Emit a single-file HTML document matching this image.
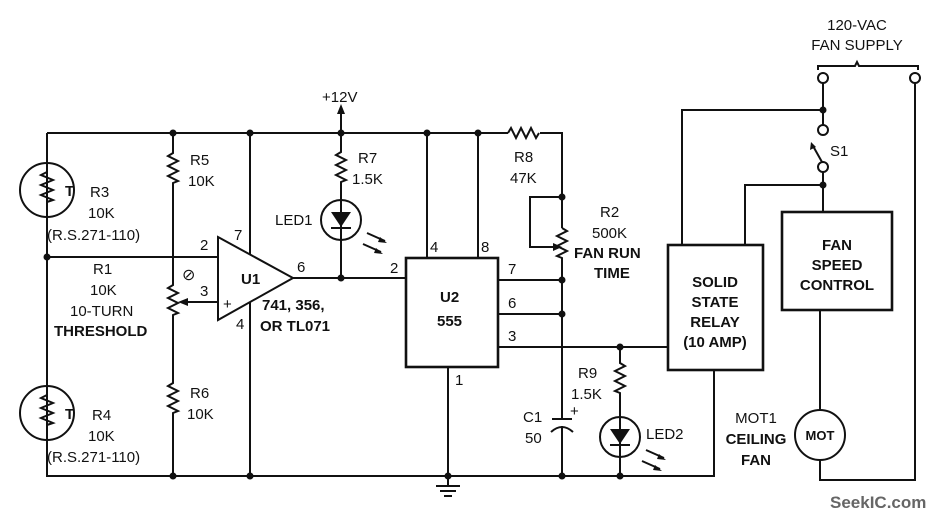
<!DOCTYPE html>
<html><head><meta charset="utf-8"><style>
html,body{margin:0;padding:0;background:#fff}
svg{display:block}
text{font-family:"Liberation Sans",sans-serif;font-size:15px;fill:#111}
.b{font-weight:bold}
</style></head><body>
<svg width="950" height="522" viewBox="0 0 950 522" xmlns="http://www.w3.org/2000/svg">
<g stroke="#111" stroke-width="2" fill="none">
<path d="M47 133 H508 M540 133 H562 V228"/>
<path d="M508 133 l3 -5 l5 10 l5 -10 l5 10 l5 -10 l5 10 l3 -5"/>
<path d="M47 133 V476 H714 V370"/>
<circle cx="47" cy="190" r="27"/>
<path d="M47 172 l-6 3 l12 5 l-12 5 l12 5 l-12 5 l12 5 l-6 2"/>
<circle cx="47" cy="413" r="27"/>
<path d="M47 395 l-6 3 l12 5 l-12 5 l12 5 l-12 5 l12 5 l-6 2"/>
<path d="M173 133 V153 l-5 3 l10 5 l-10 5 l10 5 l-10 5 l10 5 l-5 2 V285 l-5 3 l10 5 l-10 5 l10 5 l-10 5 l10 5 l-5 2 V383 l-5 3 l10 5 l-10 5 l10 5 l-10 5 l10 5 l-5 2 V476"/>
<path d="M47 257 H218"/>
<path d="M188 302 H218"/>
<path d="M218 237 L293 278 L218 320 Z"/>
<path d="M250 133 V254 M250 302 V476"/>
<path d="M293 278 H406"/>
<path d="M341 112 V152 l-5 3 l10 5 l-10 5 l10 5 l-10 5 l10 5 l-5 2 V278"/>
<circle cx="341" cy="220" r="20"/>
<path d="M331 228 H351"/>
<path d="M367 233 l18 8 M363 244 l18 8"/>
<rect x="406" y="258" width="92" height="109" stroke-width="2.6"/>
<path d="M427 133 V258 M478 133 V258 M448 367 V486"/>
<path d="M436 486 H460 M440 491 H456 M444 496 H452"/>
<path d="M562 197 H530 V247 H555"/>
<path d="M562 228 l5 3 l-10 5 l10 5 l-10 5 l10 5 l-10 5 l5 2 V418"/>
<path d="M498 280 H562 M498 314 H562 M498 347 H668"/>
<path d="M552 419 H572"/>
<path d="M551 432 Q562 422 573 432"/>
<path d="M562 426 V476"/>
<path d="M620 347 V363 l5 3 l-10 5 l10 5 l-10 5 l10 5 l-10 5 l5 2 V476"/>
<circle cx="620" cy="437" r="20"/>
<path d="M610 445 H630"/>
<path d="M646 450 l18 8 M642 461 l18 8"/>
<rect x="668" y="245" width="95" height="125" stroke-width="2.6"/>
<path d="M682 245 V110 H823 M745 245 V185 H823"/>
<path d="M823 83 V125 M823 172 V212"/>
<circle cx="823" cy="78" r="5" fill="#fff"/>
<circle cx="915" cy="78" r="5" fill="#fff"/>
<circle cx="823" cy="130" r="5" fill="#fff"/>
<circle cx="823" cy="167" r="5" fill="#fff"/>
<path d="M822 162 L813 146"/>
<path d="M818 70 V66 H855 L857 62 L859 66 H918 V70"/>
<rect x="782" y="212" width="110" height="98" stroke-width="2.6"/>
<path d="M820 310 V410 M820 460 V480 H915 V83"/>
<circle cx="820" cy="435" r="25"/>
</g>
<g fill="#111">
<path d="M341 104 l-4 10 h8 z"/>
<path d="M331 212 h20 l-10 15 z"/>
<path d="M610 429 h20 l-10 15 z"/>
<path d="M178 302 l10 -4 v8 z"/>
<path d="M562 247 l-9 -4 v8 z"/>
<path d="M387 243 l-7 -6 l-2 5 z M383 254 l-7 -6 l-2 5 z"/>
<path d="M666 460 l-7 -6 l-2 5 z M662 471 l-7 -6 l-2 5 z"/>
<path d="M811 142 l-1 8 l6 -3 z"/>
<circle cx="173" cy="133" r="3.5"/><circle cx="250" cy="133" r="3.5"/><circle cx="341" cy="133" r="3.5"/>
<circle cx="427" cy="133" r="3.5"/><circle cx="478" cy="133" r="3.5"/>
<circle cx="47" cy="257" r="3.5"/><circle cx="341" cy="278" r="3.5"/>
<circle cx="173" cy="476" r="3.5"/><circle cx="250" cy="476" r="3.5"/><circle cx="448" cy="476" r="3.5"/>
<circle cx="562" cy="476" r="3.5"/><circle cx="620" cy="476" r="3.5"/>
<circle cx="562" cy="197" r="3.5"/><circle cx="562" cy="280" r="3.5"/><circle cx="562" cy="314" r="3.5"/>
<circle cx="620" cy="347" r="3.5"/><circle cx="823" cy="110" r="3.5"/><circle cx="823" cy="185" r="3.5"/>
</g>
<text x="65" y="196" class="b">T</text><text x="65" y="419" class="b">T</text>
<text x="190" y="165">R5</text><text x="188" y="186">10K</text>
<text x="90" y="197">R3</text><text x="88" y="218">10K</text><text x="47" y="240">(R.S.271-110)</text>
<text x="93" y="274">R1</text><text x="90" y="295">10K</text><text x="70" y="316">10-TURN</text><text x="54" y="336" class="b">THRESHOLD</text>
<text x="182" y="280" style="font-size:16px">⊘</text>
<text x="200" y="250">2</text><text x="234" y="240">7</text><text x="200" y="296">3</text><text x="223" y="309">+</text>
<text x="297" y="272">6</text><text x="236" y="329">4</text>
<text x="241" y="284" class="b">U1</text>
<text x="262" y="310" class="b">741, 356,</text><text x="260" y="331" class="b">OR TL071</text>
<text x="190" y="398">R6</text><text x="187" y="419">10K</text>
<text x="92" y="420">R4</text><text x="88" y="441">10K</text><text x="47" y="462">(R.S.271-110)</text>
<text x="322" y="102">+12V</text>
<text x="358" y="163">R7</text><text x="352" y="184">1.5K</text><text x="275" y="225">LED1</text>
<text x="430" y="252">4</text><text x="481" y="252">8</text><text x="390" y="273">2</text>
<text x="440" y="302" class="b">U2</text><text x="437" y="326" class="b">555</text>
<text x="508" y="274">7</text><text x="508" y="308">6</text><text x="508" y="341">3</text><text x="455" y="385">1</text>
<text x="514" y="162">R8</text><text x="510" y="183">47K</text>
<text x="600" y="217">R2</text><text x="592" y="238">500K</text><text x="574" y="258" class="b">FAN RUN</text><text x="594" y="278" class="b">TIME</text>
<text x="578" y="378">R9</text><text x="571" y="399">1.5K</text>
<text x="523" y="422">C1</text><text x="525" y="443">50</text><text x="570" y="416">+</text>
<text x="646" y="439">LED2</text>
<text x="715" y="287" class="b" text-anchor="middle">SOLID</text>
<text x="715" y="307" class="b" text-anchor="middle">STATE</text>
<text x="715" y="327" class="b" text-anchor="middle">RELAY</text>
<text x="715" y="347" class="b" text-anchor="middle">(10 AMP)</text>
<text x="837" y="250" class="b" text-anchor="middle">FAN</text>
<text x="837" y="270" class="b" text-anchor="middle">SPEED</text>
<text x="837" y="290" class="b" text-anchor="middle">CONTROL</text>
<text x="830" y="156">S1</text>
<text x="857" y="30" text-anchor="middle">120-VAC</text>
<text x="857" y="50" text-anchor="middle">FAN SUPPLY</text>
<text x="756" y="423" text-anchor="middle">MOT1</text>
<text x="756" y="444" class="b" text-anchor="middle">CEILING</text>
<text x="756" y="465" class="b" text-anchor="middle">FAN</text>
<text x="820" y="440" class="b" text-anchor="middle" style="font-size:13px">MOT</text>
<text x="830" y="508" class="b" style="font-size:17px;fill:#666">SeekIC.com</text>
</svg>
</body></html>
